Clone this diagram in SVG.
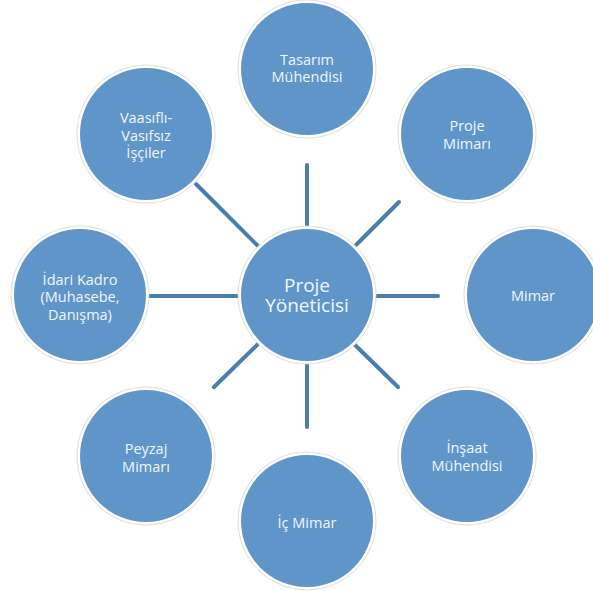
<svg xmlns="http://www.w3.org/2000/svg" width="593" height="591" viewBox="0 0 593 591">
<style>
.halo{fill:#fff;stroke:#d4d4d4;stroke-width:0.8}
.disc{fill:#5f95c9}
.lbl{font-family:"Open Sans","Liberation Sans",sans-serif;font-size:14.5px;fill:#f2f6fa;text-anchor:middle}
.big{font-size:19px}
.conn line{stroke:#4a7db0;stroke-width:4;stroke-linecap:round}
</style>
<rect width="593" height="591" fill="#fff"/>
<g class="conn" id="connectors">
<line x1="307" y1="165" x2="307" y2="227"/>
<line x1="399" y1="202" x2="355" y2="246"/>
<line x1="376" y1="296" x2="438" y2="296"/>
<line x1="354" y1="344" x2="398" y2="387"/>
<line x1="307" y1="364" x2="307" y2="427"/>
<line x1="258" y1="344" x2="214" y2="387"/>
<line x1="149" y1="296" x2="240" y2="296"/>
<line x1="196" y1="184" x2="258" y2="246"/>
</g>
<g id="center">
<circle class="halo" cx="307" cy="295" r="69"/>
<circle class="disc" cx="307" cy="295" r="66"/>
<text class="lbl big" x="307" y="292">Proje</text>
<text class="lbl big" x="307" y="312">Yöneticisi</text>
</g>
<g id="tasarim">
<circle class="halo" cx="307" cy="69" r="69"/>
<circle class="disc" cx="307" cy="69" r="66"/>
<text class="lbl" x="307" y="65">Tasarım</text>
<text class="lbl" x="307" y="82">Mühendisi</text>
</g>
<g id="proje-mimari">
<circle class="halo" cx="467" cy="134" r="69"/>
<circle class="disc" cx="467" cy="134" r="66"/>
<text class="lbl" x="467" y="131">Proje</text>
<text class="lbl" x="467" y="149">Mimarı</text>
</g>
<g id="mimar">
<circle class="halo" cx="533" cy="295" r="69"/>
<circle class="disc" cx="533" cy="295" r="66"/>
<text class="lbl" x="533" y="301">Mimar</text>
</g>
<g id="insaat">
<circle class="halo" cx="467" cy="456" r="69"/>
<circle class="disc" cx="467" cy="456" r="66"/>
<text class="lbl" x="467" y="453">İnşaat</text>
<text class="lbl" x="467" y="471">Mühendisi</text>
</g>
<g id="ic-mimar">
<circle class="halo" cx="307" cy="521" r="69"/>
<circle class="disc" cx="307" cy="521" r="66"/>
<text class="lbl" x="307" y="528">İç Mimar</text>
</g>
<g id="peyzaj">
<circle class="halo" cx="146" cy="456" r="69"/>
<circle class="disc" cx="146" cy="456" r="66"/>
<text class="lbl" x="146" y="454">Peyzaj</text>
<text class="lbl" x="146" y="472">Mimarı</text>
</g>
<g id="idari">
<circle class="halo" cx="80" cy="295" r="69"/>
<circle class="disc" cx="80" cy="295" r="66"/>
<text class="lbl" x="80" y="285">İdari Kadro</text>
<text class="lbl" x="80" y="302">(Muhasebe,</text>
<text class="lbl" x="80" y="320">Danışma)</text>
</g>
<g id="vasifli">
<circle class="halo" cx="146" cy="134" r="69"/>
<circle class="disc" cx="146" cy="134" r="66"/>
<text class="lbl" x="146" y="123">Vaasıflı-</text>
<text class="lbl" x="146" y="141">Vasıfsız</text>
<text class="lbl" x="146" y="158">İşçiler</text>
</g>
</svg>
